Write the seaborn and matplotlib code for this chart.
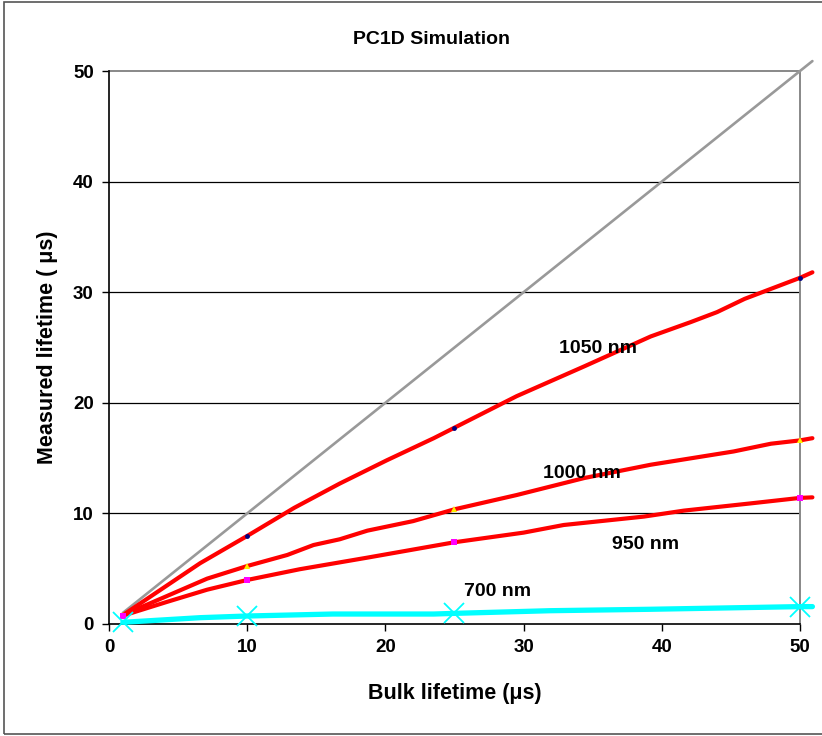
import matplotlib
matplotlib.use("Agg")
import matplotlib.pyplot as plt
from matplotlib.patches import Rectangle
import seaborn as sns
import pandas as pd

# Values
x_1050 = [1, 6.6, 10, 13.4, 16.7, 20.1, 23.5, 25, 29.5, 34.4, 39.2, 42.1, 44, 46, 50, 50.9]
y_1050 = [0.8, 5.5, 7.96, 10.5, 12.7, 14.8, 16.8, 17.75, 20.6, 23.3, 26.0, 27.3, 28.2, 29.4, 31.3, 31.8]

x_1000 = [1, 7.1, 10, 12.9, 14.8, 16.7, 18.7, 22, 25, 29.5, 34.4, 39.2, 45.2, 47.9, 50, 50.9]
y_1000 = [0.8, 4.1, 5.24, 6.24, 7.14, 7.66, 8.44, 9.3, 10.37, 11.66, 13.2, 14.4, 15.6, 16.3, 16.6, 16.8]

x_950 = [1, 4.2, 7.1, 10, 13.8, 18.7, 25, 30, 32.9, 38.7, 41.6, 46.4, 50, 50.9]
y_950 = [0.75, 2.0, 3.1, 3.98, 4.95, 6.0, 7.39, 8.26, 8.95, 9.71, 10.25, 10.9, 11.4, 11.45]

x_700 = [1, 6.6, 10, 16.2, 23.5, 25, 31.9, 39.2, 50, 50.9]
y_700 = [0.15, 0.57, 0.72, 0.9, 0.9, 0.96, 1.2, 1.33, 1.57, 1.57]

x_diag = [1, 50.9]
y_diag = [1, 50.9]

marker_x = [1, 10, 25, 50]

labels = ["1050 nm", "1000 nm", "950 nm", "700 nm"]
label_x = [35.4, 34.2, 38.8, 28.1]
label_y = [24.9, 13.6, 7.2, 2.9]

title = "PC1D Simulation"
xlabel = "Bulk lifetime (\u03bcs)"
ylabel = "Measured lifetime ( \u03bcs)"
ticks = [0, 10, 20, 30, 40, 50]

sns.set_theme(style="white")
plt.rcParams['font.family'] = ['Liberation Sans', 'DejaVu Sans']
plt.rcParams['font.weight'] = 'bold'
plt.rcParams['text.color'] = 'black'
plt.rcParams['axes.labelcolor'] = 'black'
plt.rcParams['xtick.color'] = 'black'
plt.rcParams['ytick.color'] = 'black'

fig = plt.figure(figsize=(8.22, 7.36), dpi=100)
ax = fig.add_axes([0.1326, 0.1522, 0.8406, 0.7513])

# outer chart frame
fig.patches.append(Rectangle((4 / 822, 2 / 736), 1.2, 1 - 4 / 736,
                             transform=fig.transFigure, fill=False,
                             edgecolor='#555555', linewidth=1.2))

ax.set_xlim(0, 50)
ax.set_ylim(0, 50)

for y in ticks[1:-1]:
    ax.axhline(y, color='black', linewidth=0.9, zorder=1)
ax.plot([0, 50], [50, 50], color='#888888', linewidth=1.4, zorder=1, clip_on=False)
ax.plot([50, 50], [0, 50], color='#888888', linewidth=1.4, zorder=1, clip_on=False)

series = [
    (x_1050, y_1050, 'red', 3.0, 'o', '#000080', 3.5),
    (x_1000, y_1000, 'red', 3.0, '^', '#ffee00', 4.5),
    (x_950, y_950, 'red', 3.0, 's', '#ff00ff', 5.0),
    (x_700, y_700, '#00ffff', 3.8, 'x', '#00ffff', 14),
]

diag = pd.DataFrame({'x': x_diag, 'y': y_diag})
sns.lineplot(data=diag, x='x', y='y', color='#999999', linewidth=1.9,
             ax=ax, clip_on=False, zorder=2)

for xs, ys, col, lw, mk, mcol, ms in series:
    df = pd.DataFrame({'x': xs, 'y': ys})
    sns.lineplot(data=df, x='x', y='y', color=col, linewidth=lw, sort=False,
                 estimator=None, ax=ax, clip_on=False, zorder=3)
    pts = df[df['x'].isin(marker_x)]
    ax.plot(pts['x'], pts['y'], linestyle='none', marker=mk, color=mcol,
            markersize=ms, markeredgewidth=1.3 if mk == 'x' else 0,
            clip_on=False, zorder=4)

for t, lx, ly in zip(labels, label_x, label_y):
    ax.text(lx, ly, t, ha='center', va='center', fontsize=14,
            fontweight='bold', color='black', zorder=5)

ax.set_xticks(ticks)
ax.set_yticks(ticks)
ax.tick_params(axis='both', which='major', direction='out', length=5,
               width=1, color='black', labelcolor='black', labelsize=13.5,
               pad=6, bottom=True, left=True)
for lab in ax.get_xticklabels() + ax.get_yticklabels():
    lab.set_fontweight('bold')

for side in ['top', 'right']:
    ax.spines[side].set_visible(False)
for side in ['left', 'bottom']:
    ax.spines[side].set_color('black')
    ax.spines[side].set_linewidth(1.2)

ax.set_xlabel(xlabel, fontsize=15.5, fontweight='bold', labelpad=19, color='black')
ax.set_ylabel(ylabel, fontsize=15.5, fontweight='bold', labelpad=11, color='black')
fig.text(431 / 822, 1 - 40 / 736, title, ha='center', va='center',
         fontsize=14, fontweight='bold', color='black')

fig.savefig("out.png", dpi=100)
